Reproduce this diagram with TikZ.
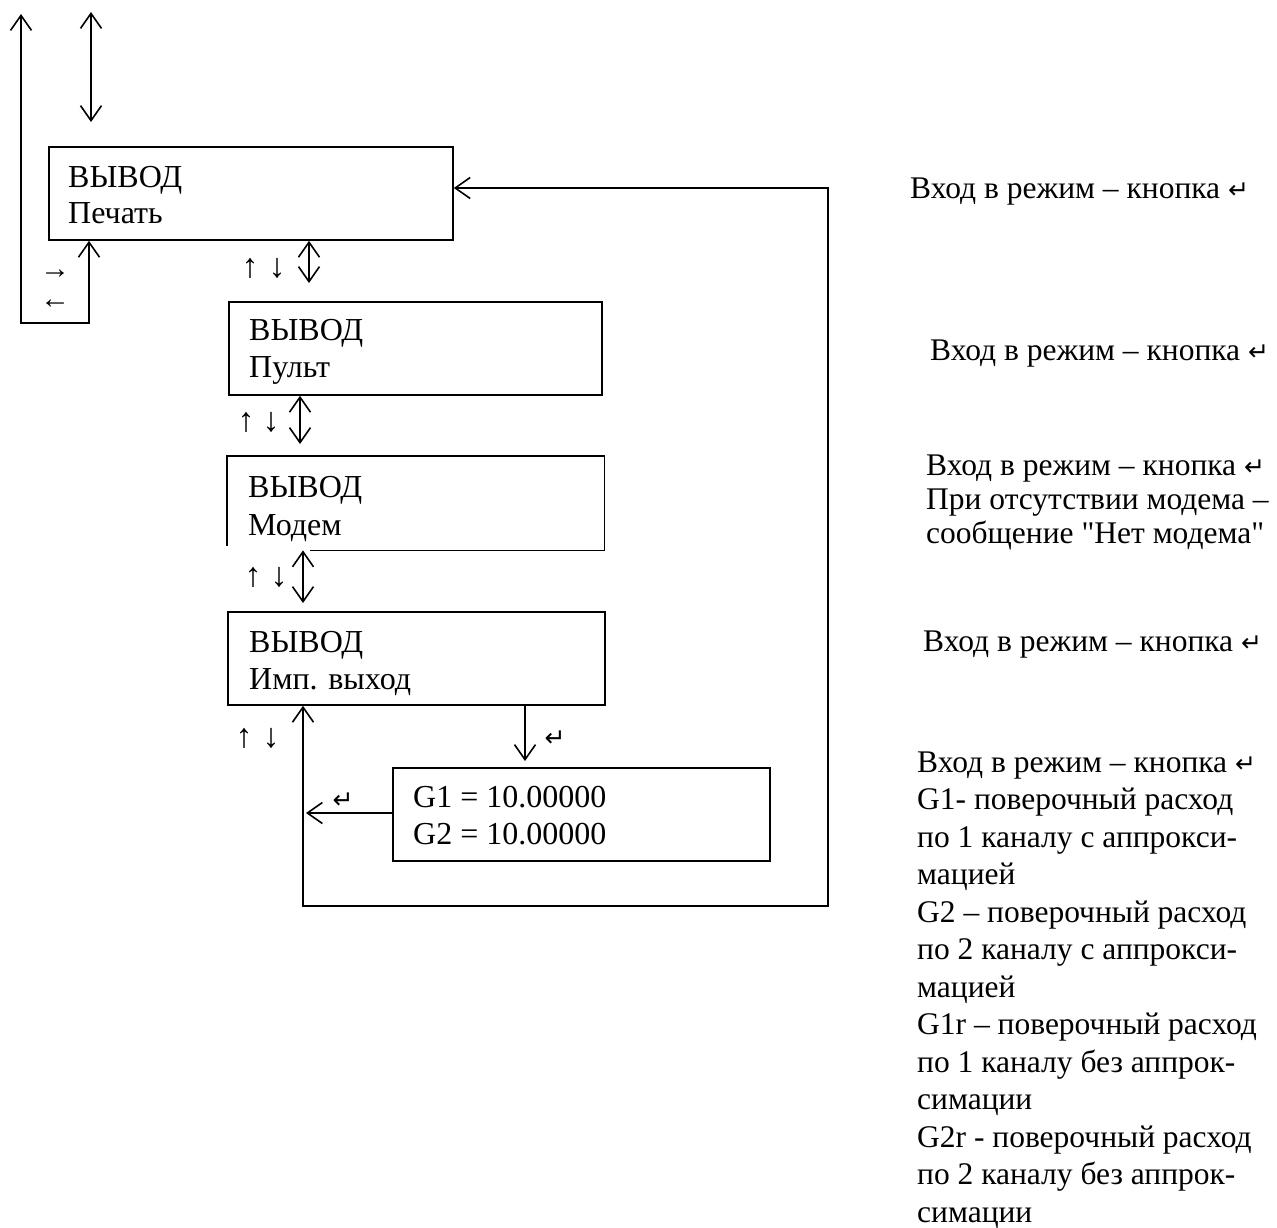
\documentclass[tikz,border=0pt]{standalone}
\usepackage{fontspec}
\setmainfont{Liberation Serif}[Ligatures=TeXOff]
\newfontfamily\symfont{DejaVu Sans}
\usetikzlibrary{arrows.meta}
\newcommand\retkey{{\symfont\fontsize{25}{25}\selectfont ↵}}
\tikzset{
  conn/.style={line width=1.6pt},
  boxline/.style={line width=1.8pt},
  tipend/.style={conn,-{Straight Barb[length=15pt,width=21pt,line width=1.6pt]}},
  tipboth/.style={conn,{Straight Barb[length=15pt,width=21pt,line width=1.6pt]}-{Straight Barb[length=15pt,width=21pt,line width=1.6pt]}},
  scrbox/.style={boxline,draw,anchor=north west,inner sep=0pt},
  boxtxt/.style={anchor=base west,inner sep=0pt,font=\fontsize{32}{37}\selectfont},
  note/.style={anchor=base west,inner sep=0pt,font=\fontsize{31.5}{37}\selectfont},
  small/.style={anchor=center,inner sep=0pt,font=\fontsize{34}{34}\selectfont},
  horiz/.style={anchor=center,inner sep=0pt,font=\fontsize{30}{30}\selectfont},
}
\begin{document}
\begin{tikzpicture}[x=1pt,y=-1pt]
\useasboundingbox (0,0) rectangle (1277,1227);
\fill[white] (0,0) rectangle (1277,1227);

% screens
\node[scrbox,minimum width=404pt,minimum height=93pt] (b1) at (48,146) {};
\node[scrbox,minimum width=373pt,minimum height=93pt] (b2) at (228,301) {};
\node[anchor=north west,inner sep=0pt,minimum width=377pt,minimum height=94pt] (b3) at (227,456) {};
\draw[boxline] (b3.south west) ++(83,0) -- (b3.south east) -- (b3.north east) -- (b3.north west) -- ++(0,90);
\node[scrbox,minimum width=377pt,minimum height=93pt] (b4) at (227,611) {};
\node[scrbox,minimum width=377pt,minimum height=93pt] (b5) at (392,767) {};

% screen texts
\node[boxtxt] (t1a) at (68,187) {ВЫВОД};
\node[boxtxt] (t1b) at (68,223) {Печать};
\node[boxtxt] (t2a) at (249,340) {ВЫВОД};
\node[boxtxt] (t2b) at (249,377) {Пульт};
\node[boxtxt] (t3a) at (248,497) {ВЫВОД};
\node[boxtxt] (t3b) at (248,535) {Модем};
\node[boxtxt] (t4a) at (249,652) {ВЫВОД};
\node[boxtxt] (t4b) at (249,689) {Имп. выход};
\node[boxtxt] (t5a) at (413,807) {G1 = 10.00000};
\node[boxtxt] (t5b) at (413,844) {G2 = 10.00000};

% free ends
\coordinate (lb) at (89,323);
\coordinate (lc) at (21,323);
\coordinate (lt) at (21,14);
\coordinate (ua) at (91,12);
\coordinate (ub) at (91,122);
\coordinate (m1) at (309,283);
\coordinate (m2) at (300,444);
\coordinate (m3) at (303,603);
\coordinate (rb) at (303,906);
\coordinate (rc) at (828,906);
\coordinate (rd) at (828,188);
\coordinate (dx) at (525,0);
\coordinate (lf) at (306,813);

% connectors
\draw[tipboth] (b1.south -| lb) -- (lb) -- (lc) -- (lt);
\draw[tipboth] (ua) -- (ub);
\draw[tipboth] (b1.south -| m1) -- (m1);
\draw[tipboth] (b2.south -| m2) -- (m2);
\draw[tipboth] (b3.south -| m3) -- (m3);
\draw[tipboth] (b4.south -| rb) -- (rb) -- (rc) -- (rd) -- (b1.east |- rd);
\draw[tipend,shorten >=6pt] (b4.south -| dx) -- (b5.north -| dx);
\draw[tipend] (b5.west |- lf) -- (lf);

% key marks
\node[horiz] (k0a) at (55,274) {→};
\node[horiz] (k0b) at (55,304) {←};
\node[small] (k1a) at (250,268) {↑};
\node[small] (k1b) at (277,268) {↓};
\node[small] (k2a) at (246,422) {↑};
\node[small] (k2b) at (271,422) {↓};
\node[small] (k3a) at (253,577) {↑};
\node[small] (k3b) at (279,577) {↓};
\node[small] (k4a) at (244,738) {↑};
\node[small] (k4b) at (271,738) {↓};
\node[inner sep=0pt] (e1) at (555,739) {\retkey};
\node[inner sep=0pt] (e2) at (343,801) {\retkey};

% notes
\node[note] (n1) at (910,198) {Вход в режим – кнопка \retkey};
\node[note] (n2) at (930,360) {Вход в режим – кнопка \retkey};
\node[note] (n3a) at (926,475) {Вход в режим – кнопка \retkey};
\node[note] (n3b) at (926,509) {При отсутствии модема –};
\node[note] (n3c) at (926,543) {сообщение "Нет модема"};
\node[note] (n4) at (923,651) {Вход в режим – кнопка \retkey};
\foreach \txt [count=\i from 0] in {Вход в режим – кнопка \retkey,
  G1- поверочный расход, по 1 каналу с аппрокси-, мацией,
  G2 – поверочный расход, по 2 каналу с аппрокси-, мацией,
  G1r – поверочный расход, по 1 каналу без аппрок-, симации,
  G2r - поверочный расход, по 2 каналу без аппрок-, симации}
  \node[note] (n5-\i) at (917,{772+\i*37.5}) {\txt};
\end{tikzpicture}
\end{document}
